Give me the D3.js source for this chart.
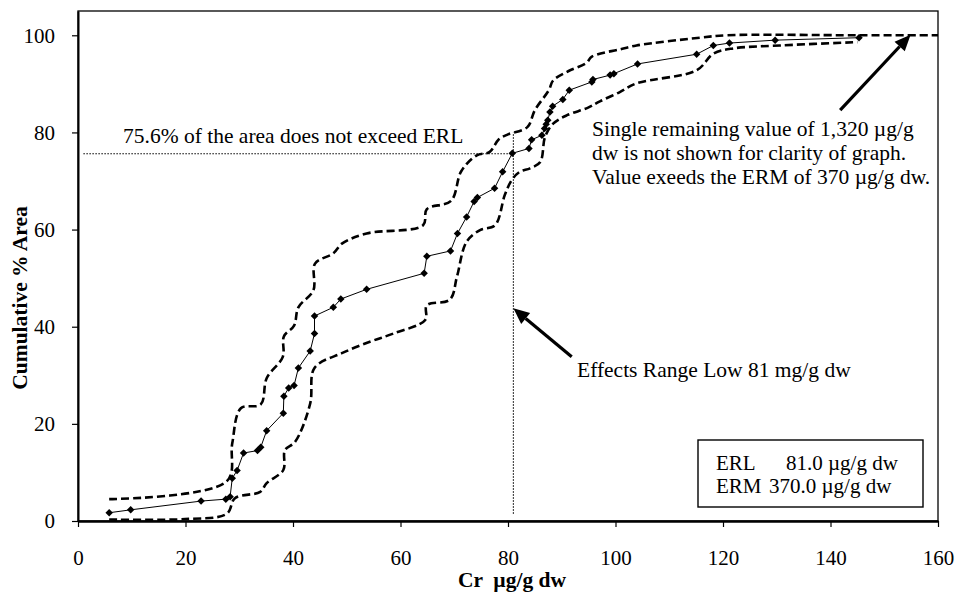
<!DOCTYPE html>
<html>
<head>
<meta charset="utf-8">
<script src="https://cdn.jsdelivr.net/npm/d3@7"></script>
<style>
  body { margin: 0; background: #fff; }
  text { font-family: "Liberation Serif", "Times New Roman", serif; fill: #000; }
</style>
</head>
<body>
<div id="chart"></div>
<script>
// ---------------------------------------------------------------
//  data
// ---------------------------------------------------------------
const crValues = [5.8, 9.8, 22.9, 27.5, 28.3, 28.7, 29.6, 30.8, 33.4, 34.0, 35.1, 38.2, 38.3, 39.2, 40.2, 41.0,
  43.2, 44.0, 44.0, 47.5, 48.9, 53.7, 64.4, 64.9, 69.3, 70.6, 72.3, 73.7, 74.3, 77.5, 79.0, 80.8,
  83.9, 84.4, 86.3, 86.8, 87.1, 87.4, 87.8, 88.3, 90.2, 91.4, 95.6, 95.8, 99.0, 99.7, 104.1, 115.1,
  118.2, 121.2, 129.7, 145.3]
const cumArea = [1.7, 2.3, 4.1, 4.5, 5.0, 8.8, 10.4, 14.0, 14.5, 15.2, 18.6, 22.2, 25.7, 27.4, 27.9, 31.5,
  35.0, 38.6, 42.2, 44.0, 45.7, 47.7, 51.0, 54.5, 55.6, 59.2, 62.6, 65.8, 66.6, 68.5, 71.9, 75.7,
  76.7, 78.5, 79.4, 80.8, 81.7, 82.5, 84.2, 85.4, 86.8, 88.7, 90.4, 90.9, 91.8, 92.1, 94.1, 96.1,
  97.9, 98.4, 99.0, 99.5]

// upper confidence bound (dashed)
const upperX = [5.8, 27.7, 28.7, 30.3, 34.0, 35.1, 38.1, 38.3, 40.2, 41.0, 43.8, 44.1, 47.5, 49.1, 53.7, 64.2,
  64.9, 69.4, 71.3, 74.2, 76.6, 78.3, 80.0, 83.6, 85.0, 87.6, 88.4, 91.2, 94.6, 95.6, 100.8, 103.9,
  115.7, 120.7, 145.0, 160.0]
const upperY = [4.5, 8.2, 16.0, 23.2, 24.0, 29.4, 33.8, 38.0, 40.2, 44.0, 47.5, 53.0, 55.1, 57.1, 59.2, 60.9,
  64.2, 65.9, 72.0, 75.3, 76.0, 78.6, 79.6, 81.1, 84.6, 88.7, 90.7, 92.6, 94.3, 95.6, 97.1, 97.9,
  99.5, 100.0, 100.0, 100.0]

// lower confidence bound (dashed)
const lowerX = [5.8, 19.9, 27.7, 29.2, 33.9, 35.1, 38.2, 38.5, 40.4, 43.2, 44.0, 49.2, 54.3, 58.7, 64.6, 64.9,
  69.2, 70.5, 72.3, 74.8, 77.6, 79.4, 80.7, 82.2, 84.1, 86.0, 86.9, 88.4, 90.9, 94.9, 97.1, 100.8,
  103.9, 115.1, 118.2, 121.9, 130.6, 145.0]
const lowerY = [0.3, 0.4, 1.5, 4.7, 6.0, 7.8, 10.5, 14.6, 16.3, 24.2, 31.5, 34.6, 36.9, 38.6, 41.4, 44.4,
  45.6, 50.3, 57.5, 59.9, 60.9, 67.1, 70.2, 71.9, 72.6, 73.9, 79.1, 81.8, 83.5, 85.1, 86.4, 88.3,
  90.1, 92.8, 96.2, 97.3, 97.9, 98.6]

const xTicks = [0, 20, 40, 60, 80, 100, 120, 140, 160]
const yTicks = [0, 20, 40, 60, 80, 100]

const ERL = 81.0
const ERM = 370.0
const ERL_PCT = 75.6

// ---------------------------------------------------------------
//  sizes
// ---------------------------------------------------------------
const WIDTH = 958
const HEIGHT = 595
const LEFT = 78
const RIGHT = 938
const TOP = 11
const BOTTOM = 521
const FONT = 21.5
const TICK_FONT = 21

const svg = d3.select('#chart').append('svg')
  .attr('width', WIDTH)
  .attr('height', HEIGHT)
  .style('background', '#fff')

const x = d3.scaleLinear().domain([0, 160]).range([LEFT, RIGHT])
const y = d3.scaleLinear().domain([0, 105]).range([BOTTOM, TOP])

// frame
svg.append('rect')
  .attr('x', LEFT).attr('y', TOP)
  .attr('width', RIGHT - LEFT).attr('height', BOTTOM - TOP)
  .attr('fill', 'none').attr('stroke', '#000').attr('stroke-width', 1.3)

// axes
const xAxis = svg.append('g')
  .attr('transform', `translate(0,${BOTTOM})`)
  .call(d3.axisBottom(x).tickValues(xTicks).tickSize(6).tickSizeOuter(0).tickPadding(23))
const yAxis = svg.append('g')
  .attr('transform', `translate(${LEFT},0)`)
  .call(d3.axisLeft(y).tickValues(yTicks).tickSize(6).tickSizeOuter(0).tickPadding(17))

xAxis.select('.domain').attr('stroke-width', 2.4)
yAxis.select('.domain').attr('stroke-width', 2)
svg.selectAll('.tick line').attr('stroke-width', 1.2)
svg.selectAll('.tick text')
  .style('font-family', '"Liberation Serif", "Times New Roman", serif')
  .style('font-size', TICK_FONT + 'px')

// axis titles
svg.append('text')
  .attr('x', 512).attr('y', 587)
  .attr('text-anchor', 'middle')
  .style('font-size', FONT + 'px').style('font-weight', 'bold')
  .attr('xml:space', 'preserve')
  .text('Cr  \u00b5g/g dw')

svg.append('text')
  .attr('transform', 'translate(27,298) rotate(-90)')
  .attr('text-anchor', 'middle')
  .style('font-size', FONT + 'px').style('font-weight', 'bold')
  .text('Cumulative % Area')

// ---------------------------------------------------------------
//  reference lines for ERL
// ---------------------------------------------------------------
svg.append('line')
  .attr('x1', x(1)).attr('x2', x(ERL))
  .attr('y1', y(ERL_PCT)).attr('y2', y(ERL_PCT))
  .attr('stroke', '#000').attr('stroke-width', 1.1).attr('stroke-dasharray', '1.5,1.5')

svg.append('line')
  .attr('x1', x(ERL)).attr('x2', x(ERL))
  .attr('y1', y(1.5)).attr('y2', y(80))
  .attr('stroke', '#000').attr('stroke-width', 1.1).attr('stroke-dasharray', '1.5,1.5')

// ---------------------------------------------------------------
//  bands and main curve
// ---------------------------------------------------------------
const band = d3.line()
  .x(d => x(d[0]))
  .y(d => y(d[1]))
  .curve(d3.curveCatmullRom.alpha(0.5))

svg.append('path')
  .datum(d3.zip(upperX, upperY))
  .attr('d', band)
  .attr('fill', 'none').attr('stroke', '#000')
  .attr('stroke-width', 2.6).attr('stroke-dasharray', '8,4')

svg.append('path')
  .datum(d3.zip(lowerX, lowerY))
  .attr('d', band)
  .attr('fill', 'none').attr('stroke', '#000')
  .attr('stroke-width', 2.6).attr('stroke-dasharray', '8,4')

const mainPts = d3.zip(crValues, cumArea)

svg.append('path')
  .datum(mainPts)
  .attr('d', d3.line().x(d => x(d[0])).y(d => y(d[1])))
  .attr('fill', 'none').attr('stroke', '#000').attr('stroke-width', 1)

svg.append('g')
  .selectAll('path')
  .data(mainPts)
  .join('path')
  .attr('d', d3.symbol(d3.symbolSquare, 28))
  .attr('transform', d => `translate(${x(d[0])},${y(d[1])}) rotate(45)`)
  .attr('fill', '#000')

// ---------------------------------------------------------------
//  annotations
// ---------------------------------------------------------------
function arrow(x0, y0, x1, y1) {
  const px0 = x(x0), py0 = y(y0), px1 = x(x1), py1 = y(y1)
  const ang = Math.atan2(py1 - py0, px1 - px0)
  const len = 16, half = 7
  const bx = px1 - len * Math.cos(ang), by = py1 - len * Math.sin(ang)
  svg.append('line')
    .attr('x1', px0).attr('y1', py0).attr('x2', bx).attr('y2', by)
    .attr('stroke', '#000').attr('stroke-width', 3.2)
  svg.append('path')
    .attr('d', `M${px1},${py1}L${bx + half * Math.sin(ang)},${by - half * Math.cos(ang)}L${bx - half * Math.sin(ang)},${by + half * Math.cos(ang)}Z`)
    .attr('fill', '#000')
}

arrow(91.85, 33.8, ERL, 43.8)
arrow(141.8, 84.6, 154.9, 100.1)

svg.append('text')
  .attr('x', 123).attr('y', 143)
  .style('font-size', FONT + 'px')
  .text(ERL_PCT + '% of the area does not exceed ERL')

svg.append('text')
  .attr('x', 577).attr('y', 377)
  .style('font-size', FONT + 'px')
  .text('Effects Range Low 81 mg/g dw')

const note = ['Single remaining value of 1,320 \u00b5g/g',
  'dw is not shown for clarity of graph.',
  'Value exeeds the ERM of 370 \u00b5g/g dw.']

svg.append('g')
  .selectAll('text')
  .data(note)
  .join('text')
  .attr('x', 592)
  .attr('y', (d, i) => 136 + i * 24)
  .style('font-size', FONT + 'px')
  .text(d => d)

// legend box
svg.append('rect')
  .attr('x', 698).attr('y', 440).attr('width', 225).attr('height', 67)
  .attr('fill', '#fff').attr('stroke', '#000').attr('stroke-width', 1.4)

const legendRows = [['ERL', ERL.toFixed(1) + ' \u00b5g/g dw', 786], ['ERM', ERM.toFixed(1) + ' \u00b5g/g dw', 769]]
legendRows.forEach((r, i) => {
  svg.append('text').attr('x', 716).attr('y', 470 + i * 23).style('font-size', '21px').text(r[0])
  svg.append('text').attr('x', r[2]).attr('y', 470 + i * 23).style('font-size', '21px').text(r[1])
})
</script>
</body>
</html>
